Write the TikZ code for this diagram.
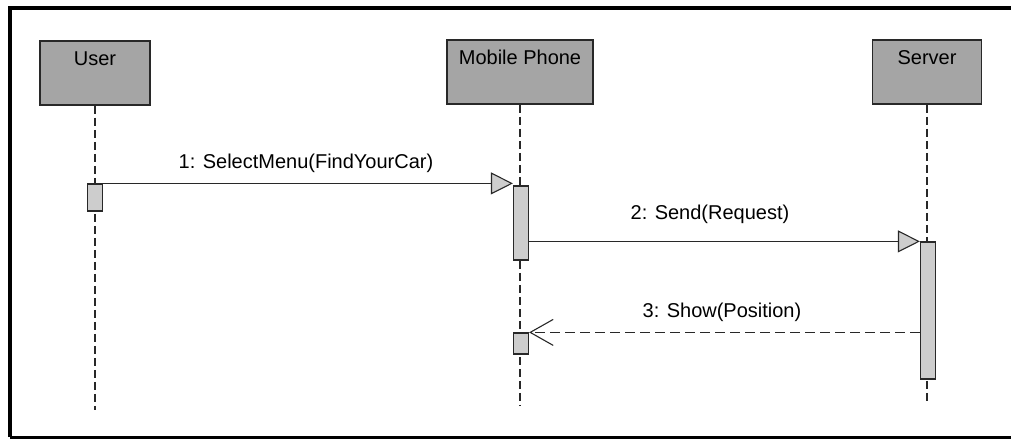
\documentclass[tikz,border=0pt]{standalone}
\usepackage{fontspec}
\setmainfont{Liberation Sans}
\usetikzlibrary{arrows.meta,positioning}
\definecolor{boxgray}{RGB}{165,165,165}
\definecolor{actgray}{RGB}{205,205,205}
\definecolor{linegray}{RGB}{40,40,40}

\begin{document}
\begin{tikzpicture}[
  x=1pt, y=-1pt,
  font=\fontsize{20}{22}\selectfont,
  actor/.style={draw=linegray, line width=1.5pt, fill=boxgray, minimum width=#1, minimum height=64pt, inner sep=0pt},
  act/.style={draw=linegray, line width=1.2pt, fill=actgray, minimum width=15pt, minimum height=#1, inner sep=0pt},
  lifeline/.style={draw=linegray, line width=1.5pt, dash pattern=on 8pt off 4pt},
  msg/.style={draw=linegray, line width=1.1pt, -{Triangle[length=22pt, width=22pt, fill=actgray]}},
  reply/.style={draw=linegray, line width=1.1pt, dash pattern=on 10pt off 5pt, -{Straight Barb[length=23pt, width=26pt]}}
]
\useasboundingbox (0,0) rectangle (1011,441);
% frame
\draw[line width=4pt] (10,437) -- (10,8) -- (1011,8);
\draw[line width=3pt] (10,437) -- (1011,437);

% actors
\node[actor=110pt, label={[anchor=north, inner sep=0pt, yshift=-11pt]north:User}] (user) at (95,73) {};
\node[actor=146pt, label={[anchor=north, inner sep=0pt, yshift=-11pt]north:Mobile Phone}] (phone) at (520,72) {};
\node[actor=109pt, label={[anchor=north, inner sep=0pt, yshift=-11pt]north:Server}] (server) at (927,72) {};

% lifelines
\coordinate (userEnd) at (95,410);
\coordinate (phoneEnd) at (520,405);
\coordinate (serverEnd) at (927,403);
\draw[lifeline] (user.south) -- (userEnd);
\draw[lifeline] (phone.south) -- (phoneEnd);
\draw[lifeline] (server.south) -- (serverEnd);

% activations
\node[act=27pt] (userAct) at (95,197.5) {};
\node[act=74pt] (phoneAct) at (521,223) {};
\node[act=137pt] (serverAct) at (928,310.5) {};
\node[act=21pt] (phoneAct2) at (521,343.5) {};

% messages
\draw[msg] (userAct.north east) -- (userAct.north east -| phoneAct.west);
\draw[msg] (phoneAct.east |- serverAct.north) -- (serverAct.north west);
\draw[reply] (serverAct.west |- phoneAct2.north) -- (phoneAct2.north east);

\node (m1) at (306,163) {1: SelectMenu(FindYourCar)};
\node (m2) at (710,214) {2: Send(Request)};
\node (m3) at (722,312) {3: Show(Position)};
\end{tikzpicture}
\end{document}
